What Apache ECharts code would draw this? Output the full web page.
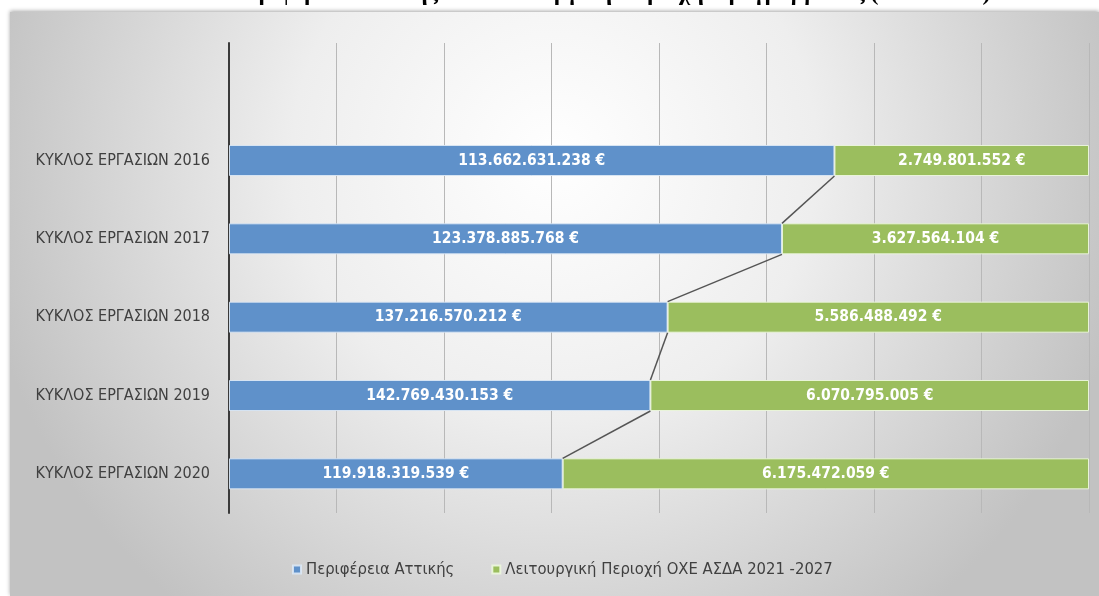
<!DOCTYPE html>
<html>
<head>
<meta charset="utf-8">
<script src="https://cdn.jsdelivr.net/npm/echarts@6/dist/echarts.min.js"></script>
<style>
html,body{margin:0;padding:0;background:#ffffff;}
#chart{width:1099px;height:596px;}
</style>
</head>
<body>
<div id="chart"></div>
<script>
// ---- data ----
var categories = ['ΚΥΚΛΟΣ ΕΡΓΑΣΙΩΝ 2016','ΚΥΚΛΟΣ ΕΡΓΑΣΙΩΝ 2017','ΚΥΚΛΟΣ ΕΡΓΑΣΙΩΝ 2018','ΚΥΚΛΟΣ ΕΡΓΑΣΙΩΝ 2019','ΚΥΚΛΟΣ ΕΡΓΑΣΙΩΝ 2020'];
var seriesNames = ['Περιφέρεια Αττικής','Λειτουργική Περιοχή ΟΧΕ ΑΣΔΑ 2021 -2027'];
// bar shares (%) as drawn in the picture
var atticaShare = [70.4, 64.3, 51.0, 49.0, 38.8];
var oxeShare = [29.6, 35.7, 49.0, 51.0, 61.2];
// amounts shown in labels (€)
var atticaAmount = [113662631238, 123378885768, 137216570212, 142769430153, 119918319539];
var oxeAmount = [2749801552, 3627564104, 5586488492, 6070795005, 6175472059];
var titleText = 'Περιφέρεια Αττικής και Λειτουργική Περιοχή Προγράμματος (2016-2020)';

function fmt(n){
  var s = String(Math.round(n));
  return s.replace(/\B(?=(\d{3})+(?!\d))/g, '.') + ' €';
}

var FONT = '"Liberation Sans Narrow","DejaVu Sans Condensed","Arial Narrow",sans-serif';
var BAR_H = 31;
var axisCats = [''].concat(categories);
var blueData = ['-'].concat(atticaShare);
var greenData = ['-'].concat(oxeShare);

var connectors = [];
for (var i = 0; i < atticaShare.length - 1; i++) {
  connectors.push([i + 1, atticaShare[i], atticaShare[i + 1]]);
}

var chart = echarts.init(document.getElementById('chart'), null, {renderer:'canvas'});
chart.setOption({
  animation: false,
  backgroundColor: '#ffffff',
  graphic: [
    {
      type: 'rect', z: -10, silent: true,
      shape: {x: 10, y: 12, width: 1089, height: 584},
      style: {
        fill: new echarts.graphic.RadialGradient(0.5, 0.25, 1.0, [
          {offset: 0, color: '#ffffff'},
          {offset: 0.45, color: '#eeeeee'},
          {offset: 1, color: '#c2c2c2'}
        ]),
        shadowBlur: 4, shadowColor: 'rgba(0,0,0,0.35)', shadowOffsetY: -1
      }
    },
    {
      type: 'text', z: 10, silent: true,
      x: 610, y: 6,
      style: {
        text: titleText,
        fill: '#000000',
        font: 'bold 24px "Liberation Serif","DejaVu Serif",serif',
        textAlign: 'center', textVerticalAlign: 'bottom'
      }
    }
  ],
  legend: {
    data: seriesNames,
    top: 556,
    left: 287,
    itemWidth: 8, itemHeight: 8, itemGap: 37,
    icon: 'rect',
    textStyle: {fontFamily: FONT, fontSize: 16.5, color: '#404040'}
  },
  grid: {left: 229, right: 10, top: 43, bottom: 83, containLabel: false},
  xAxis: {
    type: 'value', min: 0, max: 100, interval: 12.5,
    axisLabel: {show: false}, axisTick: {show: false}, axisLine: {show: false},
    splitLine: {show: true, lineStyle: {color: '#b8b8b8', width: 1}}
  },
  yAxis: {
    type: 'category', inverse: true, data: axisCats,
    axisTick: {show: false},
    axisLine: {show: true, lineStyle: {color: '#3a3a3a', width: 2}},
    axisLabel: {fontFamily: FONT, fontSize: 16, color: '#404040', margin: 19}
  },
  series: [
    {
      name: seriesNames[0], type: 'bar', stack: 's', data: blueData,
      barWidth: BAR_H,
      itemStyle: {color: '#5f91ca', borderColor: 'rgba(220,232,245,0.9)', borderWidth: 1},
      label: {
        show: true, position: 'inside',
        formatter: function(p){ return fmt(atticaAmount[p.dataIndex - 1]); },
        fontFamily: FONT, fontSize: 15.5, fontWeight: 'bold', color: '#ffffff'
      }
    },
    {
      name: seriesNames[1], type: 'bar', stack: 's', data: greenData,
      barWidth: BAR_H,
      itemStyle: {color: '#9bbe5e', borderColor: 'rgba(235,245,220,0.95)', borderWidth: 1},
      label: {
        show: true, position: 'inside',
        formatter: function(p){ return fmt(oxeAmount[p.dataIndex - 1]); },
        fontFamily: FONT, fontSize: 15.5, fontWeight: 'bold', color: '#ffffff'
      }
    },
    {
      type: 'custom', silent: true, z: 5,
      data: connectors,
      encode: {x: [1, 2], y: 0},
      renderItem: function(params, api){
        var c = api.value(0);
        var p1 = api.coord([api.value(1), c]);
        var p2 = api.coord([api.value(2), c + 1]);
        return {
          type: 'line',
          shape: {x1: p1[0], y1: p1[1] + BAR_H/2, x2: p2[0], y2: p2[1] - BAR_H/2},
          style: {stroke: '#555555', lineWidth: 1.5}
        };
      }
    }
  ]
});
</script>
</body>
</html>
